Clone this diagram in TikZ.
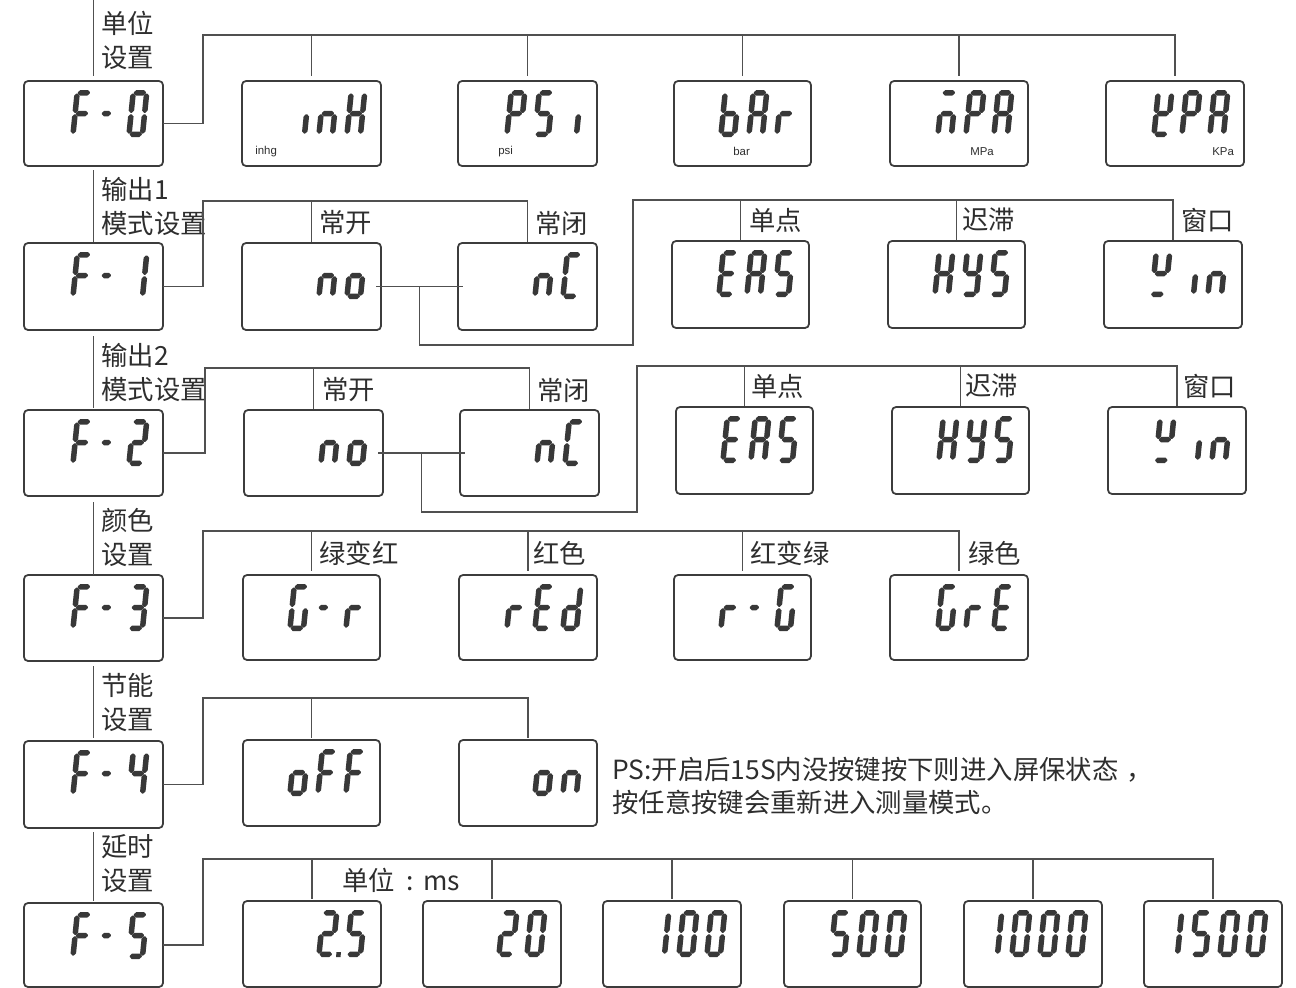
\documentclass[tikz,border=0pt]{standalone}
\usepackage{fontspec}
\setmainfont{Noto Sans CJK SC}
\newfontfamily\unitfont{Liberation Sans}
\usetikzlibrary{calc}
\definecolor{segc}{HTML}{383838}
\definecolor{linec}{HTML}{505050}
\definecolor{boxc}{HTML}{3C3C3C}
\definecolor{txtc}{HTML}{2E2E2E}
% one LCD segment: horizontal (x1,x2,y) and vertical (x,ytop,ybottom)
\newcommand\hseg[3]{\fill[segc] (#1,#3+0.6) -- (#1+2.2,#3+2.75) -- (#2-2.2,#3+2.75) -- (#2,#3+0.6) -- (#2,#3-0.6) -- (#2-2.2,#3-2.75) -- (#1+2.2,#3-2.75) -- (#1,#3-0.6) -- cycle;}
\newcommand\vseg[3]{\fill[segc] (#1-0.6,#2) -- (#1+0.6,#2) -- (#1+2.75,#2-2.2) -- (#1+2.75,#3+2.2) -- (#1+0.6,#3) -- (#1-0.6,#3) -- (#1-2.75,#3+2.2) -- (#1-2.75,#2-2.2) -- cycle;}
\def\SEGa{\hseg{3.5}{15.5}{44.25}}
\def\SEGb{\vseg{16.25}{43.5}{24.25}}
\def\SEGc{\vseg{16.25}{22.75}{3.5}}
\def\SEGd{\hseg{3.5}{15.5}{2.75}}
\def\SEGe{\vseg{2.75}{22.75}{3.5}}
\def\SEGf{\vseg{2.75}{43.5}{24.25}}
\def\SEGg{\hseg{3.5}{15.5}{23.5}}
\def\SEGm{\hseg{1.5}{10.5}{23.5}}
\def\SEGq{\hseg{2}{14}{2.75}}
\def\SEGp{\fill[segc] (20,0) rectangle (24.5,5);}
\def\segloop#1{\ifx#1\relax\else\csname SEG#1\endcsname\expandafter\segloop\fi}
% digits of a display, right aligned in box #1, pitch #2
\newcommand\digs[3]{%
  \foreach \g [count=\i] in {#3}{\xdef\ndig{\i}}%
  \foreach \g [count=\i] in {#3}{%
    \begin{scope}[shift={($(#1.north east)+({-37-(\ndig-\i)*#2},56)$)},x=0.02cm,y=0.02cm,xslant=0.1]
      \expandafter\segloop\g\relax
    \end{scope}}}
\tikzset{
  lcd/.style={draw=boxc, line width=1pt, rounded corners=0.08cm, inner sep=0pt, outer sep=0pt, anchor=north west},
  conn/.style={draw=linec, line width=0.75pt},
  lab/.style={anchor=west, inner sep=0pt, text=txtc, font=\fontsize{15}{19}\selectfont, align=left},
  unit/.style={anchor=west, inner sep=0pt, text=txtc, font=\unitfont\fontsize{6.5}{7}\selectfont}
}
\newcommand\lcdbox[5]{\node[lcd, minimum width={(#4-#2)*0.02cm}, minimum height={(#5-#3)*0.02cm}] (#1) at (#2,#3) {};}
\begin{document}
\begin{tikzpicture}[x=0.02cm, y=-0.02cm]
\useasboundingbox (0,0) rectangle (1296,988);
\fill[white] (0,0) rectangle (1296,988);

% ---------- boxes ----------
\lcdbox{f0}{24}{81}{163}{166}
\lcdbox{inh}{242}{81}{381}{166}
\lcdbox{psi}{458}{81}{597}{166}
\lcdbox{bar}{674}{81}{811}{166}
\lcdbox{mpa}{890}{81}{1028}{166}
\lcdbox{kpa}{1106}{81}{1244}{166}

\lcdbox{f1}{24}{243}{163}{330}
\lcdbox{no1}{242}{243}{381}{330}
\lcdbox{nc1}{458}{243}{597}{330}
\lcdbox{eas1}{672}{241}{809}{328}
\lcdbox{hys1}{888}{241}{1025}{328}
\lcdbox{win1}{1104}{241}{1242}{328}

\lcdbox{f2}{24}{410}{163}{496}
\lcdbox{no2}{244}{410}{383}{496}
\lcdbox{nc2}{460}{410}{599}{496}
\lcdbox{eas2}{676}{407}{813}{494}
\lcdbox{hys2}{892}{407}{1029}{494}
\lcdbox{win2}{1108}{407}{1246}{494}

\lcdbox{f3}{24}{575}{163}{661}
\lcdbox{gr}{243}{575}{380}{660}
\lcdbox{red}{459}{575}{597}{660}
\lcdbox{rg}{674}{575}{811}{660}
\lcdbox{gre}{890}{575}{1028}{660}

\lcdbox{f4}{24}{741}{163}{828}
\lcdbox{off}{243}{740}{380}{826}
\lcdbox{on}{459}{740}{597}{826}

\lcdbox{f5}{24}{903}{163}{987}
\lcdbox{t25}{243}{901}{381}{987}
\lcdbox{t20}{423}{901}{561}{987}
\lcdbox{t100}{603}{901}{741}{987}
\lcdbox{t500}{784}{901}{921}{987}
\lcdbox{t1000}{964}{901}{1102}{987}
\lcdbox{t1500}{1144}{901}{1282}{987}

% ---------- segment texts ----------
\digs{f0}{28}{aefg,m,abcdef}
\digs{f1}{28}{aefg,m,bc}
\digs{f2}{28}{aefg,m,abged}
\digs{f3}{28}{aefg,m,abgcd}
\digs{f4}{28}{aefg,m,fgbc}
\digs{f5}{28}{aefg,m,afgcd}
\digs{inh}{28}{c,ceg,bcefg}
\digs{psi}{28}{abefg,afgcd,c}
\digs{bar}{28}{cdefg,abcefg,eg}
\digs{mpa}{28}{aceg,abefg,abcefg}
\digs{kpa}{28}{bdefg,abefg,abcefg}
\digs{no1}{28}{ceg,cdeg}
\digs{nc1}{28}{ceg,adef}
\digs{eas1}{28}{adefg,abcefg,afgcd}
\digs{hys1}{28}{bcefg,bcdfg,afgcd}
\digs{win1}{28}{bfgq,c,ceg}
\digs{no2}{28}{ceg,cdeg}
\digs{nc2}{28}{ceg,adef}
\digs{eas2}{28}{adefg,abcefg,afgcd}
\digs{hys2}{28}{bcefg,bcdfg,afgcd}
\digs{win2}{28}{bfgq,c,ceg}
\digs{gr}{28}{acdef,m,eg}
\digs{red}{28}{eg,adefg,bcdeg}
\digs{rg}{28}{eg,m,acdef}
\digs{gre}{28}{acdef,eg,adefg}
\digs{off}{28}{cdeg,aefg,aefg}
\digs{on}{28}{cdeg,ceg}
\digs{t25}{28}{abdegp,afgcd}
\digs{t20}{28}{abdeg,abcdef}
\digs{t100}{28}{bc,abcdef,abcdef}
\digs{t500}{28}{acdfg,abcdef,abcdef}
\digs{t1000}{28}{bc,abcdef,abcdef,abcdef}
\digs{t1500}{28}{bc,acdfg,abcdef,abcdef}

% ---------- small unit labels ----------
\node[unit] (u0) at (255,152) {inhg};
\node[unit] (u1) at (498,152) {psi};
\node[unit] (u2) at (733,151) {bar};
\node[unit] (u3) at (970,152) {MPa};
\node[unit] (u4) at (1212,152) {KPa};

% ---------- left trunk ----------
\coordinate (top) at (93.5,0);
\draw[conn] (top) -- ($(f0.north)+(0,-5)$);
\draw[conn] ($(f0.south)+(0,4)$) -- ($(f1.north)+(0,-1)$);
\draw[conn] ($(f1.south)+(0,6)$) -- ($(f2.north)+(0,-2)$);
\draw[conn] ($(f2.south)+(0,6)$) -- (f3.north);
\draw[conn] ($(f3.south)+(0,5)$) -- ($(f4.north)+(0,-3)$);
\draw[conn] ($(f4.south)+(0,4)$) -- ($(f5.north)+(0,-2)$);

\node[lab] (s0) at (101,40.5) {单位\\设置};
\node[lab] (s1) at (101,206.5) {输出1\\模式设置};
\node[lab] (s2) at (101,372.5) {输出2\\模式设置};
\node[lab] (s3) at (101,537.5) {颜色\\设置};
\node[lab] (s4) at (101,702.5) {节能\\设置};
\node[lab] (s5) at (101,863.5) {延时\\设置};

% ---------- row 0 ----------
\coordinate (b0) at (203,35);
\draw[conn] (f0.east) -| (b0) -| ($(kpa.north)+(0,-5)$);
\foreach \n in {inh,psi,bar,mpa}{\draw[conn] (\n.north |- b0) -- ($(\n.north)+(0,-5)$);}

% ---------- row 1 ----------
\coordinate (b1) at (203,201);
\draw[conn] (f1.east) -| (b1) -| ($(nc1.north)+(0,-1)$);
\draw[conn] (no1.north |- b1) -- ($(no1.north)+(0,-1)$);
\draw[conn] ($(no1.east)+(-5,0)$) -- ($(nc1.west)+(5,0)$);
\coordinate (m1) at ($(no1.east)!0.5!(nc1.west)$);
\coordinate (b1r) at (633,200);
\draw[conn] (m1) |- (b1r |- 0,345) -- (b1r) -| ($(win1.north)+(0,-1)$);
\foreach \n in {eas1,hys1}{\draw[conn] (\n.north |- b1r) -- ($(\n.north)+(0,-1)$);}
\node[lab] (lo1) at (319,223) {常开};
\node[lab] (lc1) at (535,223) {常闭};
\node[lab] (ls1) at (749,220) {单点};
\node[lab] (lh1) at (962,220) {迟滞};
\node[lab] (lw1) at (1181,220) {窗口};

% ---------- row 2 ----------
\coordinate (b2) at (205,368);
\draw[conn] (f2.east) -| (b2) -| ($(nc2.north)+(0,-1)$);
\draw[conn] (no2.north |- b2) -- ($(no2.north)+(0,-1)$);
\draw[conn] ($(no2.east)+(-5,0)$) -- ($(nc2.west)+(5,0)$);
\coordinate (m2) at ($(no2.east)!0.5!(nc2.west)$);
\coordinate (b2r) at (637,366);
\draw[conn] (m2) |- (b2r |- 0,512) -- (b2r) -| ($(win2.north)+(0,-1)$);
\foreach \n in {eas2,hys2}{\draw[conn] (\n.north |- b2r) -- ($(\n.north)+(0,-1)$);}
\node[lab] (lo2) at (322,390) {常开};
\node[lab] (lc2) at (537,390) {常闭};
\node[lab] (ls2) at (751,386) {单点};
\node[lab] (lh2) at (965,386) {迟滞};
\node[lab] (lw2) at (1183,386) {窗口};

% ---------- row 3 ----------
\coordinate (b3) at (203,531);
\draw[conn] (f3.east) -| (b3) -| ($(gre.north)+(0,-4)$);
\foreach \n in {gr,red,rg}{\draw[conn] (\n.north |- b3) -- ($(\n.north)+(0,-4)$);}
\node[lab] (l31) at (319,553) {绿变红};
\node[lab] (l32) at (533,553) {红色};
\node[lab] (l33) at (750,553) {红变绿};
\node[lab] (l34) at (968,553) {绿色};

% ---------- row 4 ----------
\coordinate (b4) at (203,698);
\draw[conn] (f4.east) -| (b4) -| ($(on.north)+(0,-2)$);
\draw[conn] (off.north |- b4) -- ($(off.north)+(0,-2)$);
\node[lab] (ps) at (612,786) {PS:开启后15S内没按键按下则进入屏保状态\hspace{0.3em}，\\按任意按键会重新进入测量模式。};

% ---------- row 5 ----------
\coordinate (b5) at (203,859);
\draw[conn] (f5.east) -| (b5) -| ($(t1500.north)+(0,-2)$);
\foreach \n in {t25,t20,t100,t500,t1000}{\draw[conn] (\n.north |- b5) -- ($(\n.north)+(0,-2)$);}
\node[lab] (lms) at (342,880) {单位\hspace{0.45em}:\hspace{0.35em}ms};
\end{tikzpicture}
\end{document}
